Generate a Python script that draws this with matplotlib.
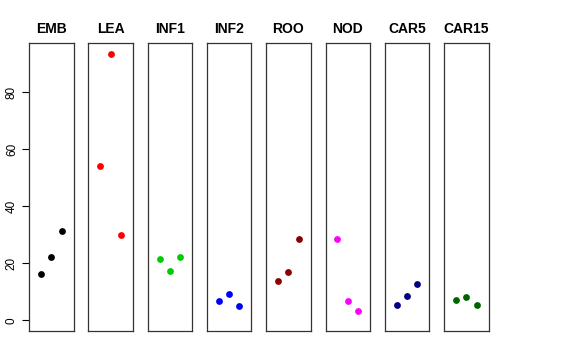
import matplotlib
matplotlib.use("Agg")
import matplotlib.pyplot as plt

plt.rcParams['font.family'] = ['Liberation Sans', 'DejaVu Sans']

# panel names, colours and values (3 points per panel)
groups = ["EMB", "LEA", "INF1", "INF2", "ROO", "NOD", "CAR5", "CAR15"]
colors = ["black", "red", "#00CD00", "blue", "#8B0000", "magenta", "#000080", "#006400"]
values = [
    [16.4, 22.2, 31.5],
    [54.0, 93.6, 29.9],
    [21.4, 17.2, 22.4],
    [6.7, 9.4, 4.9],
    [13.8, 17.0, 28.5],
    [28.4, 6.8, 3.3],
    [5.4, 8.7, 12.8],
    [7.1, 8.1, 5.4],
]
xpos = [1, 2, 3]
yticks = [0, 20, 40, 60, 80]

W, H = 576, 360
fig = plt.figure(figsize=(W / 100, H / 100), dpi=100)

ymax = max(max(v) for v in values)
ypad = 0.04 * ymax

left0 = 29
step = 59.3
pw = 44.5
top = 43
bottom = 331

for i, (g, c, v) in enumerate(zip(groups, colors, values)):
    x0 = left0 + i * step
    ax = fig.add_axes([x0 / W, 1 - bottom / H, pw / W, (bottom - top) / H])
    ax.scatter(xpos, v, s=24, color=c, zorder=3, linewidths=0)
    ax.set_xlim(-0.16, 4.16)
    ax.set_ylim(-ypad, ymax + ypad)
    ax.set_xticks([])
    for sp in ax.spines.values():
        sp.set_color("#333333")
        sp.set_linewidth(0.9)
    if i == 0:
        ax.set_yticks(yticks)
        ax.set_yticklabels([str(t) for t in yticks], rotation=90, va="center", fontsize=8.5)
        ax.tick_params(axis="y", length=5, width=0.8, pad=3)
    else:
        ax.set_yticks([])
    fig.text((x0 + pw / 2) / W, 1 - 29 / H, g, ha="center", va="center",
             fontsize=10, fontweight="bold")

fig.savefig("out.png", dpi=100)
